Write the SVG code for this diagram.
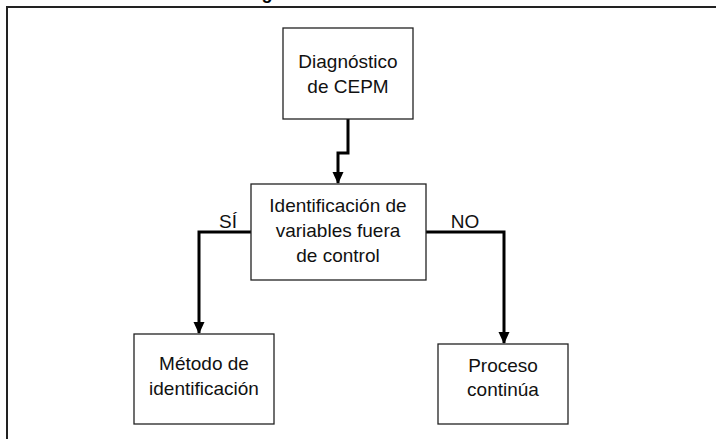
<svg xmlns="http://www.w3.org/2000/svg" width="716" height="439" viewBox="0 0 716 439">
<style>
.box{fill:#fff;stroke:#222;stroke-width:1.3}
.t{font-family:"Liberation Sans",Arial,sans-serif;font-size:19px;fill:#111;text-anchor:middle}
.c{fill:none;stroke:#000;stroke-width:3}
</style>
<defs>
<marker id="ah" markerUnits="userSpaceOnUse" markerWidth="12" markerHeight="13" refX="11" refY="5.5" orient="auto" viewBox="0 0 12 11">
<path d="M0,0 L12,5.5 L0,11 Z" fill="#000"/>
</marker>
</defs>
<rect width="716" height="439" fill="#fff"/>
<text x="267" y="-1" font-family="Liberation Sans,Arial,sans-serif" font-size="18" font-weight="bold" text-anchor="middle" fill="#000">g</text>
<rect x="7" y="7" width="720" height="440" fill="none" stroke="#222" stroke-width="2"/>
<g id="connectors">
<path class="c" d="M348,119 V153 H338 V183" marker-end="url(#ah)"/>
<path class="c" d="M251,232 H199 V333" marker-end="url(#ah)"/>
<path class="c" d="M426,232 H504 V343" marker-end="url(#ah)"/>
<text class="t" x="228" y="228">SÍ</text>
<text class="t" x="465" y="228">NO</text>
</g>
<g id="diagnostico">
<rect class="box" x="283" y="28" width="130" height="91"/>
<text class="t" x="348" y="68">Diagnóstico</text>
<text class="t" x="348" y="93">de CEPM</text>
</g>
<g id="identificacion">
<rect class="box" x="251" y="184" width="175" height="96"/>
<text class="t" x="338" y="212">Identificación de</text>
<text class="t" x="338" y="237">variables fuera</text>
<text class="t" x="338" y="262">de control</text>
</g>
<g id="metodo">
<rect class="box" x="134" y="334" width="140" height="90"/>
<text class="t" x="204" y="370">Método de</text>
<text class="t" x="204" y="395">identificación</text>
</g>
<g id="proceso">
<rect class="box" x="438" y="344" width="130" height="80"/>
<text class="t" x="503" y="372">Proceso</text>
<text class="t" x="503" y="396">continúa</text>
</g>
</svg>
